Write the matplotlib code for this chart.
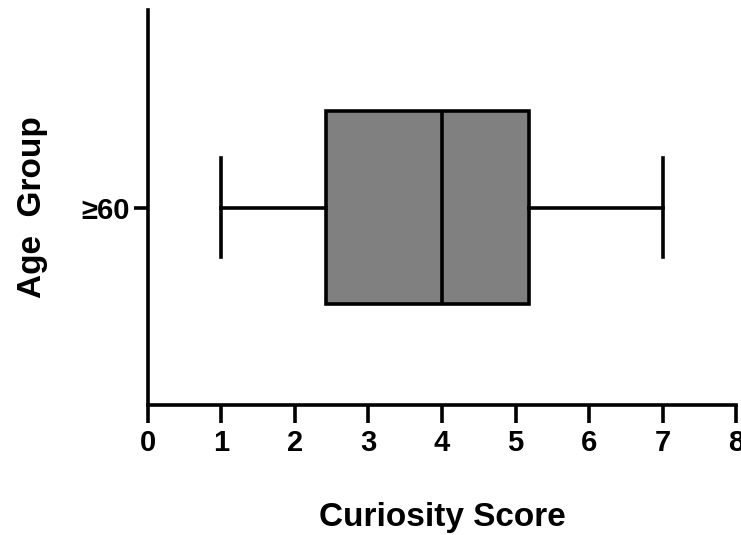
import numpy as np
import matplotlib.pyplot as plt

# box plot summary
groups = ['≥60']
whisker_low = [1.0]
q1 = [2.42]
median = [4.0]
q3 = [5.18]
whisker_high = [7.0]
xticks = [0, 1, 2, 3, 4, 5, 6, 7, 8]

plt.rcParams['font.family'] = ['Liberation Sans', 'DejaVu Sans']
plt.rcParams['font.weight'] = 'bold'

fig = plt.figure(figsize=(7.41, 5.35), dpi=100)
ax = fig.add_axes([0.1997, 0.243, 0.7936, 0.738])

stats = []
for i, g in enumerate(groups):
    stats.append({'label': g, 'whislo': whisker_low[i], 'q1': q1[i], 'med': median[i],
                  'q3': q3[i], 'whishi': whisker_high[i], 'fliers': []})

lw = 2.6
ax.bxp(stats, positions=range(len(groups)), vert=False, widths=0.98, patch_artist=True,
       boxprops=dict(facecolor='#808080', edgecolor='black', linewidth=lw),
       medianprops=dict(color='black', linewidth=lw),
       whiskerprops=dict(color='black', linewidth=lw),
       capprops=dict(color='black', linewidth=lw),
       capwidths=0.5, showfliers=False)

ax.set_xlim(0, 8)
ax.set_ylim(-1.0, 1.0)
ax.set_xticks(xticks)
ax.set_yticks(range(len(groups)))
ax.set_yticklabels(groups)

for s in ['top', 'right']:
    ax.spines[s].set_visible(False)
for s in ['left', 'bottom']:
    ax.spines[s].set_linewidth(lw)

ax.tick_params(axis='x', length=13, width=lw, labelsize=21, pad=4)
ax.tick_params(axis='y', length=10, width=lw, labelsize=21, pad=3)
for lab in ax.get_xticklabels() + ax.get_yticklabels():
    lab.set_fontweight('bold')

ax.set_xlabel('Curiosity Score', fontsize=24, fontweight='bold', labelpad=33)
ax.set_ylabel('Age  Group', fontsize=24, fontweight='bold', labelpad=24)

fig.savefig('out.png', dpi=100)
